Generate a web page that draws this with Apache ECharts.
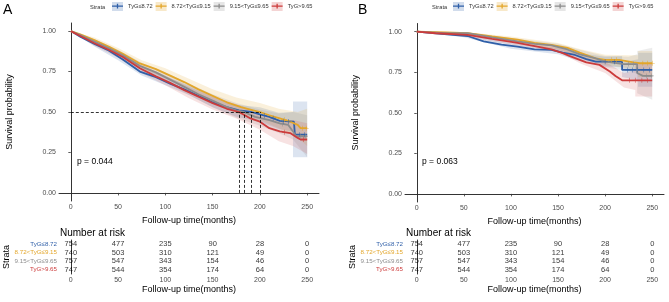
<!DOCTYPE html>
<html>
<head>
<meta charset="utf-8">
<script src="https://cdn.jsdelivr.net/npm/echarts@6/dist/echarts.min.js"></script>
<style>
html, body { margin: 0; padding: 0; background: #fff; }
#chart { width: 669px; height: 302px; }
</style>
</head>
<body>
<div id="chart"></div>
<script>
// strata and colours
var strata = ['TyG≤8.72', '8.72<TyG≤9.15', '9.15<TyG≤9.65', 'TyG>9.65'];
var colors = ['#2F5FA8', '#E3A62A', '#8C8C8C', '#CC3B3B'];
var bandColors = ['rgba(47,95,168,0.17)', 'rgba(227,166,42,0.17)', 'rgba(140,140,140,0.17)', 'rgba(204,59,59,0.15)'];
var legendBack = ['rgba(47,95,168,0.22)', 'rgba(227,166,42,0.25)', 'rgba(140,140,140,0.22)', 'rgba(204,59,59,0.22)'];
var timeTicks = [0, 50, 100, 150, 200, 250];
var probTicks = [0, 0.25, 0.5, 0.75, 1];

// panel A survival curves [months, survival]
var survA_low = [[0,1],[10,0.965],[25,0.92],[40,0.88],[55,0.825],[73,0.75],[90,0.715],[105,0.675],[120,0.64],[135,0.60],[150,0.56],[165,0.53],[178,0.51],[191,0.50],[200,0.485],[210,0.47],[221,0.445],[236,0.44],[237,0.36],[250,0.36]];
var survA_mid1 = [[0,1],[10,0.98],[25,0.945],[40,0.905],[55,0.86],[73,0.80],[90,0.765],[105,0.725],[120,0.685],[135,0.64],[150,0.60],[165,0.56],[180,0.53],[190,0.515],[200,0.50],[210,0.48],[221,0.46],[232,0.44],[240,0.42],[243,0.40],[250,0.40]];
var survA_mid2 = [[0,1],[10,0.975],[25,0.935],[40,0.895],[55,0.85],[73,0.785],[90,0.745],[105,0.70],[120,0.655],[135,0.61],[150,0.57],[165,0.53],[175,0.51],[183,0.50],[195,0.47],[210,0.45],[221,0.43],[230,0.42],[235,0.38],[238,0.35],[250,0.35]];
var survA_high = [[0,1],[10,0.97],[25,0.925],[40,0.885],[55,0.84],[73,0.77],[90,0.72],[105,0.68],[120,0.635],[135,0.595],[150,0.555],[165,0.52],[178,0.50],[190,0.46],[200,0.44],[210,0.40],[221,0.38],[232,0.37],[240,0.34],[243,0.33],[250,0.33]];

// panel A censoring marks
var censA_low = [[205,0.478],[214,0.462],[225,0.443],[230,0.442],[242,0.36],[247,0.36]];
var censA_mid1 = [[226,0.452],[245,0.40],[249,0.40]];
var censA_mid2 = [[224,0.426],[243,0.35],[248,0.35]];
var censA_high = [[226,0.375],[246,0.33]];

// panel A confidence bands [months, lower, upper]
var bandA_low = [[0,1,1],[25,0.905,0.935],[50,0.82,0.86],[75,0.725,0.775],[100,0.665,0.72],[125,0.605,0.665],[150,0.53,0.595],[175,0.47,0.545],[200,0.44,0.53],[220,0.395,0.495],[235,0.38,0.50],[235,0.22,0.565],[250,0.22,0.565]];
var bandA_mid1 = [[0,1,1],[25,0.93,0.96],[50,0.855,0.895],[75,0.77,0.82],[100,0.71,0.77],[125,0.635,0.705],[150,0.56,0.64],[175,0.49,0.59],[200,0.45,0.555],[220,0.40,0.52],[240,0.34,0.50],[250,0.29,0.52]];
var bandA_mid2 = [[0,1,1],[25,0.92,0.95],[50,0.845,0.885],[75,0.755,0.805],[100,0.685,0.745],[125,0.605,0.675],[150,0.53,0.61],[175,0.465,0.555],[200,0.415,0.515],[220,0.37,0.49],[235,0.33,0.50],[250,0.22,0.48]];
var bandA_high = [[0,1,1],[25,0.91,0.94],[50,0.835,0.875],[75,0.74,0.79],[100,0.665,0.725],[125,0.585,0.655],[150,0.515,0.595],[175,0.46,0.55],[200,0.39,0.49],[220,0.32,0.44],[235,0.29,0.45],[250,0.24,0.43]];

// panel A median survival times
var mediansA = [178, 183, 191, 200];

// panel B survival curves
var survB_low = [[0,1],[20,0.99],[54,0.973],[71,0.94],[90,0.92],[107,0.907],[125,0.89],[143,0.887],[155,0.87],[168,0.856],[180,0.83],[190,0.815],[218,0.815],[218,0.764],[250,0.764]];
var survB_mid1 = [[0,1],[30,0.995],[54,0.99],[80,0.97],[107,0.95],[125,0.93],[143,0.918],[160,0.90],[173,0.87],[190,0.835],[200,0.826],[215,0.826],[230,0.81],[237,0.805],[250,0.805]];
var survB_mid2 = [[0,1],[30,0.99],[54,0.99],[80,0.965],[107,0.94],[125,0.925],[143,0.915],[160,0.89],[173,0.86],[190,0.835],[200,0.815],[220,0.80],[234,0.80],[234,0.745],[240,0.727],[250,0.727]];
var survB_high = [[0,1],[20,0.99],[54,0.98],[80,0.955],[107,0.93],[128,0.907],[143,0.89],[155,0.867],[162,0.85],[180,0.81],[194,0.795],[205,0.754],[211,0.727],[218,0.70],[250,0.70]];

// panel B censoring marks
var censB_low = [[200,0.815],[210,0.815],[224,0.764],[229,0.764],[234,0.764],[241,0.764],[247,0.764]];
var censB_mid1 = [[207,0.826],[212,0.826],[240,0.805],[245,0.805],[250,0.805]];
var censB_mid2 = [[225,0.80],[230,0.80],[244,0.727],[249,0.727]];
var censB_high = [[226,0.70],[232,0.70],[239,0.70],[245,0.70]];

// panel B confidence bands
var bandB_low = [[0,1,1],[50,0.965,0.985],[100,0.895,0.93],[150,0.86,0.90],[175,0.815,0.865],[200,0.785,0.845],[218,0.78,0.85],[218,0.72,0.81],[235,0.70,0.83],[235,0.66,0.87],[250,0.66,0.87]];
var bandB_mid1 = [[0,1,1],[50,0.983,0.997],[100,0.94,0.97],[150,0.89,0.93],[175,0.84,0.89],[200,0.795,0.857],[225,0.775,0.855],[235,0.755,0.855],[235,0.72,0.88],[250,0.72,0.88]];
var bandB_mid2 = [[0,1,1],[50,0.982,0.998],[100,0.93,0.96],[150,0.885,0.925],[175,0.835,0.885],[200,0.78,0.85],[225,0.755,0.845],[234,0.74,0.86],[234,0.62,0.88],[250,0.58,0.90]];
var bandB_high = [[0,1,1],[50,0.97,0.99],[100,0.92,0.95],[150,0.875,0.915],[175,0.80,0.85],[200,0.745,0.815],[220,0.655,0.745],[232,0.64,0.76],[232,0.60,0.80],[250,0.60,0.80]];

// number at risk (same table in both panels)
var riskTimes = [0, 50, 100, 150, 200, 250];
var risk_low = [754, 477, 235, 90, 28, 0];
var risk_mid1 = [740, 503, 310, 121, 49, 0];
var risk_mid2 = [757, 547, 343, 154, 46, 0];
var risk_high = [747, 544, 354, 174, 64, 0];

var pA = 'p = 0.044';
var pB = 'p = 0.063';

var font = 'Liberation Sans, Arial, sans-serif';
var survA = [survA_low, survA_mid1, survA_mid2, survA_high];
var survB = [survB_low, survB_mid1, survB_mid2, survB_high];
var censA = [censA_low, censA_mid1, censA_mid2, censA_high];
var censB = [censB_low, censB_mid1, censB_mid2, censB_high];
var bandA = [bandA_low, bandA_mid1, bandA_mid2, bandA_high];
var bandB = [bandB_low, bandB_mid1, bandB_mid2, bandB_high];
var risks = [risk_low, risk_mid1, risk_mid2, risk_high];

var dom = document.getElementById('chart');
var myChart = echarts.init(dom, null, { renderer: 'canvas' });

function timeAxis(grid, name, gap) {
    return {
        type: 'value', gridIndex: grid, min: -12.5, max: 262.5,
        name: name, nameLocation: 'middle', nameGap: gap,
        nameTextStyle: { fontSize: 9, color: '#000', fontFamily: font },
        axisLine: { lineStyle: { color: '#000', width: 0.8 } },
        axisTick: { length: 2.5, lineStyle: { color: '#333', width: 0.8 }, customValues: timeTicks },
        axisLabel: { fontSize: 7, color: '#4d4d4d', margin: 3, fontFamily: font, customValues: timeTicks },
        splitLine: { show: false }
    };
}
function probAxis(grid) {
    return {
        type: 'value', gridIndex: grid, min: -0.05, max: 1.05,
        name: 'Survival probability', nameLocation: 'middle', nameGap: 45,
        nameTextStyle: { fontSize: 9, color: '#000', fontFamily: font },
        axisLine: { lineStyle: { color: '#000', width: 0.8 } },
        axisTick: { length: 2.5, lineStyle: { color: '#333', width: 0.8 }, customValues: probTicks },
        axisLabel: {
            fontSize: 7, color: '#4d4d4d', margin: 3, fontFamily: font, customValues: probTicks,
            formatter: function (v) { return v.toFixed(2); }
        },
        splitLine: { show: false }
    };
}
var rich = {};
colors.forEach(function (c, i) { rich['c' + i] = { color: c, fontSize: 6.2, fontFamily: font }; });
function strataAxis(grid) {
    return {
        type: 'category', gridIndex: grid, data: strata, inverse: true,
        name: 'Strata', nameLocation: 'middle', nameGap: 46, nameRotate: 90,
        nameTextStyle: { fontSize: 9, color: '#000', fontFamily: font },
        axisLine: { lineStyle: { color: '#000', width: 0.8 } },
        axisTick: { alignWithLabel: true, length: 2, lineStyle: { color: '#333', width: 0.8 } },
        axisLabel: {
            margin: 2, interval: 0,
            formatter: function (v) { return '{c' + strata.indexOf(v) + '|' + v + '}'; },
            rich: rich
        },
        splitLine: { show: false }
    };
}

var plusMark = 'path://M0,2.2h5v0.6H0zM2.2,0h0.6v5H2.2z';
var series = [];
function addPanel(xi, yi, rxi, ryi, surv, cens, band) {
    band.forEach(function (b, i) {
        series.push({
            type: 'custom', xAxisIndex: xi, yAxisIndex: yi, silent: true, z: 1,
            data: b, encode: { x: 0, y: [1, 2] },
            renderItem: function (params, api) {
                if (params.dataIndex !== 0) return null;
                var up = b.map(function (p) { return api.coord([p[0], p[2]]); });
                var lo = b.map(function (p) { return api.coord([p[0], p[1]]); }).reverse();
                return { type: 'polygon', shape: { points: up.concat(lo) }, style: { fill: bandColors[i] } };
            }
        });
    });
    surv.forEach(function (s, i) {
        series.push({
            type: 'line', name: strata[i], xAxisIndex: xi, yAxisIndex: yi, data: s,
            showSymbol: false, z: 3, color: colors[i],
            lineStyle: { width: 1.8, color: colors[i] }, animation: false
        });
        series.push({
            type: 'scatter', xAxisIndex: xi, yAxisIndex: yi, data: cens[i], silent: true, z: 4,
            symbol: plusMark, symbolSize: 5, itemStyle: { color: colors[i] }
        });
    });
    risks.forEach(function (r, i) {
        series.push({
            type: 'scatter', xAxisIndex: rxi, yAxisIndex: ryi, symbolSize: 0, silent: true,
            data: riskTimes.map(function (t, k) { return [t, strata[i], r[k]]; }),
            label: {
                show: true, position: 'inside', fontSize: 7.5, color: '#000', fontFamily: font,
                formatter: function (p) { return p.value[2]; }
            }
        });
    });
}
addPanel(0, 0, 1, 1, survA, censA, bandA);
addPanel(2, 2, 3, 3, survB, censB, bandB);

// median guide lines in panel A
var medLines = [[{ coord: [0, 0.5] }, { coord: [Math.max.apply(null, mediansA), 0.5] }]];
mediansA.forEach(function (m) { medLines.push([{ coord: [m, 0] }, { coord: [m, 0.5] }]); });
series.push({
    type: 'line', xAxisIndex: 0, yAxisIndex: 0, data: [], silent: true,
    markLine: {
        symbol: 'none', silent: true, animation: false, label: { show: false },
        lineStyle: { color: '#000', type: [3, 2], width: 0.8 },
        data: medLines
    }
});

function legends(left) {
    var plus = 'path://M0,0M12,9M0,3.7h12v1.6H0zM5.3,1.8h1.4v5.4H5.3z';
    var base = {
        left: left, top: 2, padding: 0, width: 260, itemWidth: 11, itemHeight: 9, itemGap: 3, selectedMode: false,
        textStyle: { fontSize: 5.7, fontFamily: font }
    };
    return [
        Object.assign({}, base, {
            z: 3, icon: 'rect',
            textStyle: Object.assign({}, base.textStyle, { color: 'rgba(0,0,0,0)' }),
            data: strata.map(function (s, i) { return { name: s, itemStyle: { color: legendBack[i] } }; })
        }),
        Object.assign({}, base, {
            z: 4, icon: plus,
            textStyle: Object.assign({}, base.textStyle, { color: '#333' }),
            data: strata.map(function (s, i) { return { name: s, itemStyle: { color: colors[i] } }; })
        })
    ];
}

function txt(x, y, s, size, fill) {
    return {
        type: 'text', x: x, y: y,
        style: { text: s, fontSize: size, fontFamily: font, fill: fill || '#000', textVerticalAlign: 'middle' }
    };
}

var option = {
    animation: false,
    backgroundColor: '#fff',
    grid: [
        { left: 59, top: 23, width: 260, height: 178 },
        { left: 59, top: 240, width: 260, height: 34 },
        { left: 405, top: 23.5, width: 259, height: 178.5 },
        { left: 405, top: 240, width: 259, height: 34 }
    ],
    xAxis: [
        timeAxis(0, 'Follow-up time(months)', 13),
        timeAxis(1, 'Follow-up time(months)', 11),
        timeAxis(2, 'Follow-up time(months)', 13),
        timeAxis(3, 'Follow-up time(months)', 11)
    ],
    yAxis: [probAxis(0), strataAxis(1), probAxis(2), strataAxis(3)],
    legend: legends(112).concat(legends(453)),
    graphic: [
        txt(3, 10, 'A', 14),
        txt(358, 10, 'B', 14),
        txt(90, 7, 'Strata', 5.7, '#333'),
        txt(432, 7, 'Strata', 5.7, '#333'),
        txt(77, 162, pA, 8.5),
        txt(422, 162, pB, 8.5),
        txt(60, 233, 'Number at risk', 10),
        txt(406, 233, 'Number at risk', 10)
    ],
    series: series
};
myChart.setOption(option);
</script>
</body>
</html>
